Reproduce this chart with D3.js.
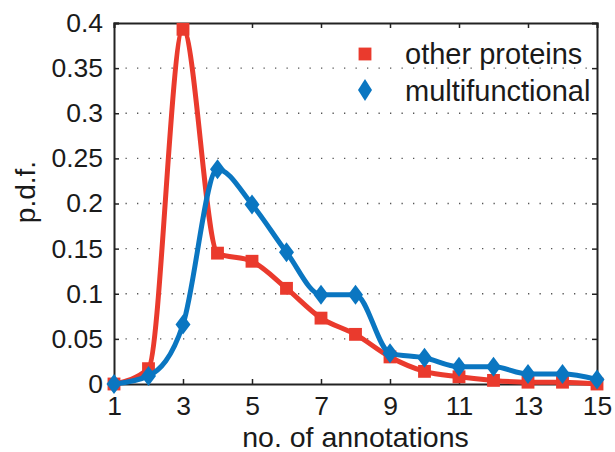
<!DOCTYPE html>
<html>
<head>
<meta charset="utf-8">
<script src="https://cdn.jsdelivr.net/npm/d3@7"></script>
<style>
  body { margin: 0; background: #fff; }
  text { font-family: "Liberation Sans", Arial, sans-serif; fill: #1a1a1a; }
</style>
</head>
<body>
<script>
// Data
const annotations = [1, 2, 3, 4, 5, 6, 7, 8, 9, 10, 11, 12, 13, 14, 15];
const otherProteins = [0, 0.017, 0.393, 0.145, 0.136, 0.106, 0.073, 0.055, 0.030, 0.014, 0.008, 0.004, 0.002, 0.002, 0.0];
const multifunctional = [0, 0.009, 0.066, 0.238, 0.199, 0.146, 0.099, 0.099, 0.034, 0.029, 0.019, 0.019, 0.011, 0.011, 0.005];
const xTicks = [1, 3, 5, 7, 9, 11, 13, 15];
const yTicks = [0, 0.05, 0.1, 0.15, 0.2, 0.25, 0.3, 0.35, 0.4];
const seriesNames = ['other proteins', 'multifunctional'];

const red = '#ea3a2d';
const blue = '#0a76c1';

const w = 615;
const h = 452;
const margin = { top: 23, right: 18, bottom: 68, left: 114 };

const x = d3.scaleLinear()
  .domain([1, 15])
  .range([margin.left, w - margin.right]);

const y = d3.scaleLinear()
  .domain([0, 0.4])
  .range([h - margin.bottom, margin.top]);

const svg = d3.select('body')
  .append('svg')
  .attr('width', w)
  .attr('height', h);

// Dotted horizontal grid
svg.append('g')
  .selectAll('line')
  .data(yTicks.slice(1, -1))
  .enter()
  .append('line')
  .attr('x1', x(1))
  .attr('x2', x(15))
  .attr('y1', d => y(d))
  .attr('y2', d => y(d))
  .attr('stroke', '#555')
  .attr('stroke-width', 1.3)
  .attr('stroke-dasharray', '1.3,10.2');

// Axes (ticks pointing inward, box all round)
const fmt = d => (d === 0 ? '0' : String(+d.toFixed(2)));

const axBottom = svg.append('g')
  .attr('transform', `translate(0,${y(0)})`)
  .call(d3.axisBottom(x).tickValues(xTicks).tickSize(-5).tickPadding(12).tickFormat(d3.format('d')));
const axTop = svg.append('g')
  .attr('transform', `translate(0,${y(0.4)})`)
  .call(d3.axisTop(x).tickValues(xTicks).tickSize(-5).tickFormat(''));
const axLeft = svg.append('g')
  .attr('transform', `translate(${x(1)},0)`)
  .call(d3.axisLeft(y).tickValues(yTicks).tickSize(-5).tickPadding(11).tickFormat(fmt));
const axRight = svg.append('g')
  .attr('transform', `translate(${x(15)},0)`)
  .call(d3.axisRight(y).tickValues(yTicks).tickSize(-5).tickFormat(''));

[axBottom, axTop, axLeft, axRight].forEach(g => {
  g.select('.domain').attr('stroke', '#222').attr('stroke-width', 2);
  g.selectAll('.tick line').attr('stroke', '#222').attr('stroke-width', 1.5);
  g.selectAll('text').attr('font-size', 26.5).attr('fill', '#1a1a1a')
    .attr('font-family', '"Liberation Sans", Arial, sans-serif');
});

// Axis titles
svg.append('text')
  .attr('x', (x(1) + x(15)) / 2)
  .attr('y', 447)
  .attr('text-anchor', 'middle')
  .attr('font-size', 28.5)
  .text('no. of annotations');

svg.append('text')
  .attr('transform', 'translate(35,192) rotate(-90)')
  .attr('text-anchor', 'middle')
  .attr('font-size', 28)
  .text('p.d.f.');

// Lines
const line = d3.line()
  .x(d => x(d[0]))
  .y(d => y(d[1]))
  .curve(d3.curveMonotoneX);

const redData = annotations.map((a, i) => [a, otherProteins[i]]);
const blueData = annotations.map((a, i) => [a, multifunctional[i]]);

const square = d3.symbol().type(d3.symbolSquare).size(165);
const diamond = 'M0,-10L7.5,0L0,10L-7.5,0Z';

const plot = svg.append('g');

plot.append('path')
  .datum(redData)
  .attr('d', line)
  .attr('fill', 'none')
  .attr('stroke', red)
  .attr('stroke-width', 5);

plot.selectAll('.sq')
  .data(redData)
  .enter()
  .append('path')
  .attr('class', 'sq')
  .attr('d', square)
  .attr('transform', d => `translate(${x(d[0])},${y(d[1])})`)
  .attr('fill', red);

plot.append('path')
  .datum(blueData)
  .attr('d', line)
  .attr('fill', 'none')
  .attr('stroke', blue)
  .attr('stroke-width', 5);

plot.selectAll('.dm')
  .data(blueData)
  .enter()
  .append('path')
  .attr('class', 'dm')
  .attr('d', diamond)
  .attr('transform', d => `translate(${x(d[0])},${y(d[1])})`)
  .attr('fill', blue);

// Legend
const legend = svg.append('g');
legend.append('path')
  .attr('d', square)
  .attr('transform', 'translate(365,54)')
  .attr('fill', red);
legend.append('path')
  .attr('d', 'M0,-11L7,0L0,11L-7,0Z')
  .attr('transform', 'translate(365,90)')
  .attr('fill', blue);
legend.selectAll('text')
  .data(seriesNames)
  .enter()
  .append('text')
  .attr('x', 405)
  .attr('y', (d, i) => 64 + i * 37)
  .attr('font-size', 29)
  .text(d => d);
</script>
</body>
</html>
